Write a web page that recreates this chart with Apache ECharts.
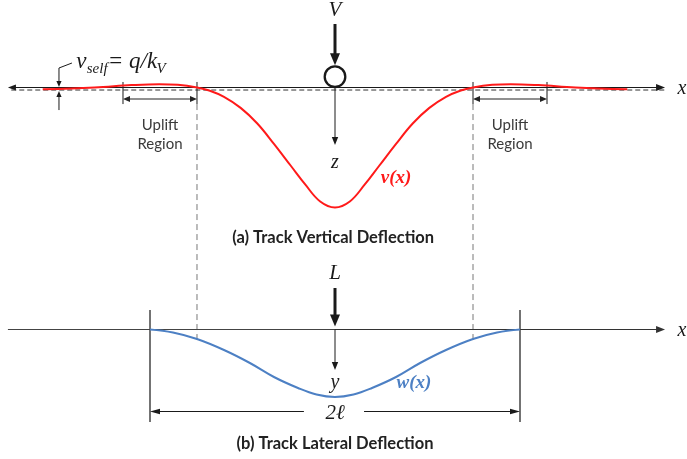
<!DOCTYPE html>
<html>
<head>
<meta charset="utf-8">
<script src="https://cdn.jsdelivr.net/npm/echarts@6/dist/echarts.min.js"></script>
<style>
  html, body { margin: 0; padding: 0; background: #fff; }
  #chart { width: 687px; height: 459px; }
</style>
</head>
<body>
<div id="chart"></div>
<script>
// Position along the track, in units of the half wave length ℓ (load at x = 0)
const vertX = [-1.58, -1.3, -1.1, -0.95, -0.85, -0.746, -0.68, -0.6, -0.51, -0.42, -0.33, -0.24, -0.16, -0.08, 0,
               0.08, 0.16, 0.24, 0.33, 0.42, 0.51, 0.6, 0.68, 0.746, 0.85, 0.95, 1.1, 1.3, 1.58];
// Vertical deflection v(x), downward positive (uplift is negative)
const vertV = [0.15, 0.0, -0.2, -0.28, -0.22, 0, 0.25, 0.78, 1.7, 3.0, 4.7, 6.5, 8.1, 9.5, 10,
               9.5, 8.1, 6.5, 4.7, 3.0, 1.7, 0.78, 0.25, 0, -0.22, -0.28, -0.2, 0.0, 0.15];
// Lateral deflection w(x) over the buckled length 2ℓ
const latX = [-1, -0.876, -0.746, -0.6, -0.46, -0.33, -0.2, -0.1, 0,
              0.1, 0.2, 0.33, 0.46, 0.6, 0.746, 0.876, 1];
const latW = [0, 0.3, 0.95, 2.05, 3.35, 4.75, 5.85, 6.5, 6.75,
              6.5, 5.85, 4.75, 3.35, 2.05, 0.95, 0.3, 0];
// Settlement under self weight and edge of the uplift region
const vSelf = 0.21;
const upliftStart = 0.746;
const upliftEnd = 1.146;
// Text drawn on the figure
const captionTop = '(a) Track Vertical Deflection';
const captionBottom = '(b) Track Lateral Deflection';
const upliftText = ['Uplift', 'Region'];

const SERIF = "'Liberation Serif', 'DejaVu Serif', serif";
const SANS = "Lato, 'Open Sans', sans-serif";
const INK = '#1a1a1a';
const RED = '#ff1a1a';
const BLUE = '#4d80c4';

const chart = echarts.init(document.getElementById('chart'), null, { renderer: 'canvas' });

// ---- drawing helpers -------------------------------------------------------
function seg(a, b, style) {
  return { type: 'line', shape: { x1: a[0], y1: a[1], x2: b[0], y2: b[1] },
           style: Object.assign({ stroke: INK, lineWidth: 1.2, fill: null }, style || {}) };
}
function head(tip, from, len, hw, color) {
  const dx = tip[0] - from[0], dy = tip[1] - from[1];
  const d = Math.hypot(dx, dy) || 1;
  const ux = dx / d, uy = dy / d;
  const bx = tip[0] - ux * len, by = tip[1] - uy * len;
  return { type: 'polygon',
           shape: { points: [tip, [bx - uy * hw, by + ux * hw], [bx + uy * hw, by - ux * hw]] },
           style: { fill: color || INK, stroke: null } };
}
// arrow from a to b (head at b); optional head at a too
function arrow(a, b, o) {
  o = o || {};
  const len = o.len || 8, hw = o.hw || 3.2, col = o.color || INK;
  const dx = b[0] - a[0], dy = b[1] - a[1];
  const d = Math.hypot(dx, dy) || 1;
  const ux = dx / d, uy = dy / d;
  const end = [b[0] - ux * len * 0.8, b[1] - uy * len * 0.8];
  let start = a;
  const out = [];
  if (o.both) {
    start = [a[0] + ux * len * 0.8, a[1] + uy * len * 0.8];
    out.push(head(a, b, len, hw, col));
  }
  out.push(seg(start, end, { stroke: col, lineWidth: o.width || 1.2 }));
  out.push(head(b, a, len, hw, col));
  return out;
}
function text(p, str, font, color, align, valign) {
  return { type: 'text',
           style: { x: p[0], y: p[1], text: str, font: font, fill: color || INK,
                    align: align || 'center', verticalAlign: valign || 'middle' } };
}

// ---- upper panel: vertical deflection ------------------------------------------
function renderVertical(params, api) {
  const P = (x, v) => api.coord([x, v]);
  const c = [];
  // undeformed rail line and settled level under self weight
  c.push(...arrow(P(0, 0), P(-1.768, 0), { len: 8, hw: 3 }));
  c.push(...arrow(P(0, 0), P(1.784, 0), { len: 9, hw: 3.5 }));
  c.push(seg(P(-1.75, vSelf), P(1.784, vSelf), { stroke: '#333', lineWidth: 1, lineDash: [5, 3] }));
  c.push(text(P(1.876, 0.1), 'x', 'italic 20px ' + SERIF));

  // wheel load V
  c.push(...arrow(P(0, -5.29), P(0, -1.85), { width: 3, len: 12, hw: 5 }));
  c.push(text(P(0, -6.4), 'V', 'italic 21px ' + SERIF));
  const cc = P(0, -0.9);
  c.push({ type: 'circle', shape: { cx: cc[0], cy: cc[1], r: 10.3 },
           style: { fill: '#fff', stroke: INK, lineWidth: 2.3 } });
  // z direction
  c.push(...arrow(P(0, 0), P(0, 4.79), { len: 8, hw: 3.2, width: 1 }));
  c.push(text(P(0, 6.3), 'z', 'italic 20px ' + SERIF));
  c.push(text(P(0.33, 7.54), 'v(x)', 'italic bold 19px ' + SERIF, RED));

  // uplift regions on both sides
  [-1, 1].forEach(s => {
    const a = s * upliftStart, b = s * upliftEnd;
    c.push(seg(P(a, -0.46), P(a, 1.38), { lineWidth: 1 }));
    c.push(seg(P(b, -0.46), P(b, 1.38), { lineWidth: 1 }));
    c.push(...arrow(P(a, 0.96), P(b, 0.96), { both: true, len: 7, hw: 3, width: 1.2, color: '#222' }));
    c.push(seg(P(a, 1.38), P(a, 21.2), { stroke: '#777', lineWidth: 1, lineDash: [6, 4] }));
    const mid = (a + b) / 2;
    c.push(text(P(mid, 3.12), upliftText[0], '15px ' + SANS, '#3a3a3a'));
    c.push(text(P(mid, 4.7), upliftText[1], '15px ' + SANS, '#3a3a3a'));
  });

  // self-weight settlement marker
  c.push(seg(P(-1.422, -2.04), P(-1.492, -1.625), { lineWidth: 1 }));
  c.push(...arrow(P(-1.492, -1.625), P(-1.492, -0.05), { len: 6, hw: 2.6, width: 1 }));
  c.push(...arrow(P(-1.492, 1.88), P(-1.492, 0.3), { len: 6, hw: 2.6, width: 1 }));
  c.push(text(P(-1.398, -2.1), 'v', 'italic 23px ' + SERIF, INK, 'left'));
  c.push(text(P(-1.342, -1.55), 'self', 'italic 15px ' + SERIF, INK, 'left'));
  c.push(text(P(-1.228, -2.1), '= q/k', 'italic 23px ' + SERIF, INK, 'left'));
  c.push(text(P(-0.965, -1.55), 'V', 'italic 15px ' + SERIF, INK, 'left'));

  c.push(text(P(-0.01, 12.54), captionTop, 'bold 16.5px ' + SANS, '#222'));
  return { type: 'group', children: c };
}

// ---- lower panel: lateral deflection ------------------------------------------
function renderLateral(params, api) {
  const P = (x, w) => api.coord([x, w]);
  const c = [];
  c.push(seg(P(-1.768, 0), P(0, 0), { stroke: '#444', lineWidth: 1.2 }));
  c.push(...arrow(P(0, 0), P(1.784, 0), { len: 9, hw: 3.5, color: '#333' }));
  c.push(text(P(1.876, 0.15), 'x', 'italic 20px ' + SERIF));
  // ends of the buckled length
  c.push(seg(P(-1, -1.95), P(-1, 9.25), { stroke: '#444', lineWidth: 1.5 }));
  c.push(seg(P(1, -1.95), P(1, 9.25), { stroke: '#444', lineWidth: 1.5 }));
  // lateral load L
  c.push(...arrow(P(0, -4.15), P(0, -0.3), { width: 3, len: 12, hw: 5 }));
  c.push(text(P(0, -5.65), 'L', 'italic 21px ' + SERIF));
  c.push(...arrow(P(0, 0), P(0, 4.05), { len: 8, hw: 3.2, width: 1 }));
  c.push(text(P(0, 5.3), 'y', 'italic 20px ' + SERIF));
  c.push(text(P(0.427, 5.35), 'w(x)', 'italic bold 19px ' + SERIF, BLUE));
  // dimension 2ℓ
  c.push(...arrow(P(-0.168, 8.2), P(-1, 8.2), { len: 10, hw: 2.8, width: 1 }));
  c.push(...arrow(P(0.157, 8.2), P(1, 8.2), { len: 10, hw: 2.8, width: 1 }));
  c.push(text(P(0, 8.35), '2ℓ', 'italic 21px ' + SERIF));
  c.push(text(P(0, 11.45), captionBottom, 'bold 16.5px ' + SANS, '#222'));
  return { type: 'group', children: c };
}

const option = {
  animation: false,
  backgroundColor: '#fff',
  grid: { left: 2, right: 0.5, top: 3.5, bottom: 5.5 },
  xAxis: { type: 'value', min: -1.8, max: 1.9, show: false },
  yAxis: [
    { type: 'value', min: -7, max: 30.5, inverse: true, show: false },
    { type: 'value', min: -32.6, max: 12.4, inverse: true, show: false }
  ],
  series: [
    { type: 'custom', yAxisIndex: 0, clip: false, silent: true, z: 1,
      data: [[0, 0]], renderItem: renderVertical },
    { type: 'custom', yAxisIndex: 1, clip: false, silent: true, z: 1,
      data: [[0, 0]], renderItem: renderLateral },
    { name: 'v(x)', type: 'line', yAxisIndex: 0, smooth: 0.4, showSymbol: false, silent: true, z: 3,
      data: vertX.map((x, i) => [x, vertV[i]]),
      lineStyle: { color: RED, width: 2 } },
    { name: 'w(x)', type: 'line', yAxisIndex: 1, smooth: 0.4, showSymbol: false, silent: true, z: 3,
      data: latX.map((x, i) => [x, latW[i]]),
      lineStyle: { color: BLUE, width: 2 } }
  ]
};
chart.setOption(option);
</script>
</body>
</html>
